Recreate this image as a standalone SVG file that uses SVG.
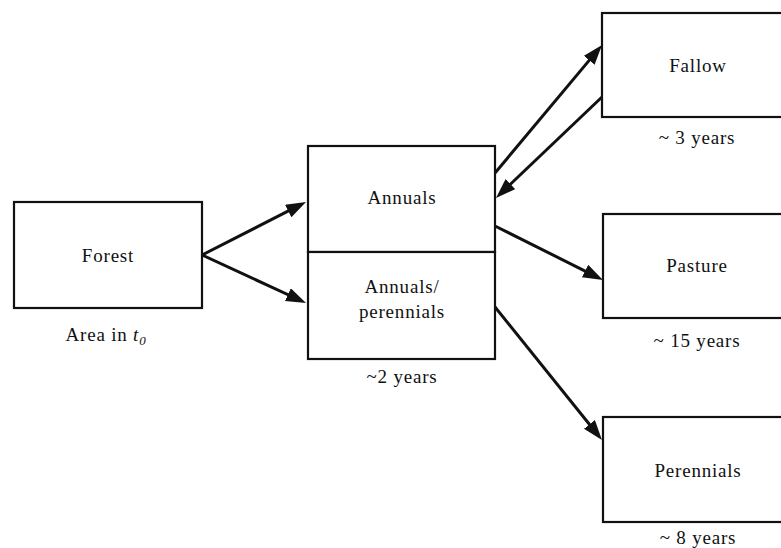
<svg xmlns="http://www.w3.org/2000/svg" width="781" height="548" viewBox="0 0 781 548" font-family="Liberation Serif, Times New Roman, serif">
<style>
.box{fill:#fff;stroke:#111;stroke-width:2.2}
.t{font-size:19px;fill:#111;text-anchor:middle;letter-spacing:0.8px}
.c{stroke:#111;stroke-width:3;fill:none;marker-end:url(#ah)}
</style>
<defs>
<marker id="ah" markerUnits="userSpaceOnUse" markerWidth="22" markerHeight="16" refX="14" refY="7" orient="auto">
<path d="M0,0 L20,7 L0,14 z" fill="#111"/>
</marker>
</defs>
<rect width="781" height="548" fill="#fff"/>
<g id="connectors">
<line class="c" x1="202" y1="255" x2="300.7" y2="204.7"/>
<line class="c" x1="202" y1="255" x2="300.6" y2="300.5"/>
<line class="c" x1="495" y1="173" x2="598.2" y2="49.6"/>
<line class="c" x1="602" y1="97" x2="500.3" y2="193.8"/>
<line class="c" x1="495" y1="226" x2="597.6" y2="277.3"/>
<line class="c" x1="495" y1="307" x2="598.2" y2="435.3"/>
</g>
<g id="forest">
<rect class="box" x="14" y="202" width="188" height="106"/>
<text class="t" x="108" y="262" font-family="Liberation Serif">Forest</text>
<text class="t" x="106" y="341" font-family="Liberation Serif">Area in <tspan font-style="italic">t</tspan><tspan font-style="italic" font-size="13" dy="4">0</tspan></text>
</g>
<g id="annuals">
<rect class="box" x="308" y="146" width="187" height="106"/>
<text class="t" x="402" y="204" font-family="Liberation Serif">Annuals</text>
</g>
<g id="annuals-perennials">
<rect class="box" x="308" y="252" width="187" height="107"/>
<text class="t" x="402" y="293" font-family="Liberation Serif">Annuals/</text>
<text class="t" x="402" y="318" font-family="Liberation Serif">perennials</text>
<text class="t" x="402" y="383" font-family="Liberation Serif">~2 years</text>
</g>
<g id="fallow">
<rect class="box" x="602" y="13" width="195" height="104"/>
<text class="t" x="698" y="72" font-family="Liberation Serif">Fallow</text>
<text class="t" x="697" y="144" font-family="Liberation Serif">~ 3 years</text>
</g>
<g id="pasture">
<rect class="box" x="603" y="214" width="195" height="104"/>
<text class="t" x="697" y="272" font-family="Liberation Serif">Pasture</text>
<text class="t" x="697" y="347" font-family="Liberation Serif">~ 15 years</text>
</g>
<g id="perennials">
<rect class="box" x="603" y="417" width="195" height="105"/>
<text class="t" x="698" y="477" font-family="Liberation Serif">Perennials</text>
<text class="t" x="698" y="544" font-family="Liberation Serif">~ 8 years</text>
</g>
</svg>
